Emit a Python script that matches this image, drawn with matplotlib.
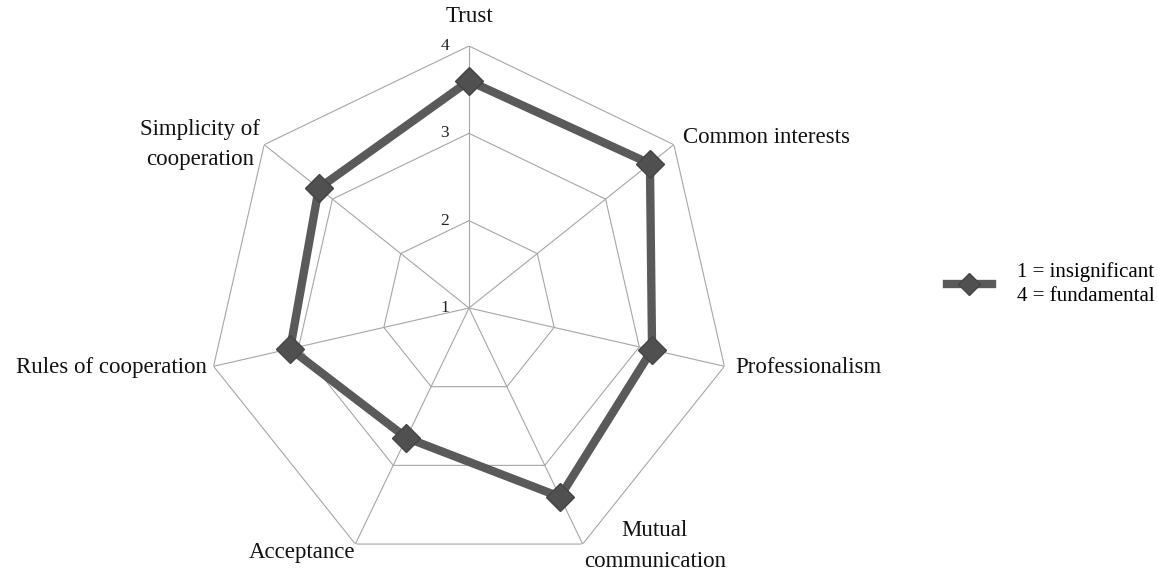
import numpy as np
import matplotlib
matplotlib.use("Agg")
import matplotlib.pyplot as plt

# factors, clockwise from the top
factors = ["Trust", "Common interests", "Professionalism", "Mutual\ncommunication",
           "Acceptance", "Rules of cooperation", "Simplicity of\ncooperation"]
scores = [3.6, 3.65, 3.15, 3.4, 2.65, 3.1, 3.2]
levels = [1, 2, 3, 4]
series_label = "1 = insignificant\n4 = fundamental"

# label placement: offset from outer vertex (pixels) and alignment
label_off = [(0, 29), (9, 7), (11, -1), (72, -2), (0, -8), (-7, -1), (-4, 0)]
label_ha = ["center", "left", "left", "center", "right", "right", "right"]

plt.rcParams["font.family"] = ["Liberation Serif", "DejaVu Serif"]

fig = plt.figure(figsize=(11.58, 5.75), dpi=100)
ax = fig.add_axes([207 / 1158, 5 / 575, 524 / 1158, 524 / 575], projection="polar")
ax.set_theta_offset(np.pi / 2)
ax.set_theta_direction(-1)
ax.set_ylim(levels[0], levels[-1])
ax.grid(False)
ax.set_xticks([])
ax.set_yticks([])
ax.spines["polar"].set_visible(False)
ax.patch.set_alpha(0)

n = len(factors)
theta = np.arange(n) * 2 * np.pi / n
theta_c = np.append(theta, theta[0])

grid_col = "#a6a6a6"
for lv in levels[1:]:
    ax.plot(theta_c, [lv] * (n + 1), color=grid_col, lw=0.8, zorder=1)
for t in theta:
    ax.plot([t, t], [levels[0], levels[-1]], color=grid_col, lw=0.8, zorder=1)

line, = ax.plot(theta_c, scores + [scores[0]], color="#5a5a5a", lw=6,
                marker="D", ms=14, mfc="#505050", mec="#454545", mew=1,
                solid_joinstyle="miter", zorder=3, label=series_label,
                markevery=list(range(n)))

for k, lab in enumerate(factors):
    dx, dy = label_off[k]
    ax.annotate(lab, xy=(theta[k], levels[-1]), xytext=(dx * 0.72, dy * 0.72),
                textcoords="offset points", ha=label_ha[k], va="center",
                multialignment="center", fontsize=16.5, color="#111111",
                linespacing=1.6, annotation_clip=False)

for lv in levels:
    ax.annotate(str(lv), xy=(0, lv), xytext=(-20 * 0.72, 0), textcoords="offset points",
                ha="right", va="center", fontsize=12.5, color="#222222",
                annotation_clip=False)

leg = fig.legend(handles=[line], loc="center left", bbox_to_anchor=(928 / 1158, 1 - 284 / 575),
                 frameon=False, fontsize=15, handlelength=2.15, handletextpad=1.2,
                 markerscale=0.8)
for t in leg.get_texts():
    t.set_linespacing(1.4)

fig.savefig("out.png", dpi=100)
